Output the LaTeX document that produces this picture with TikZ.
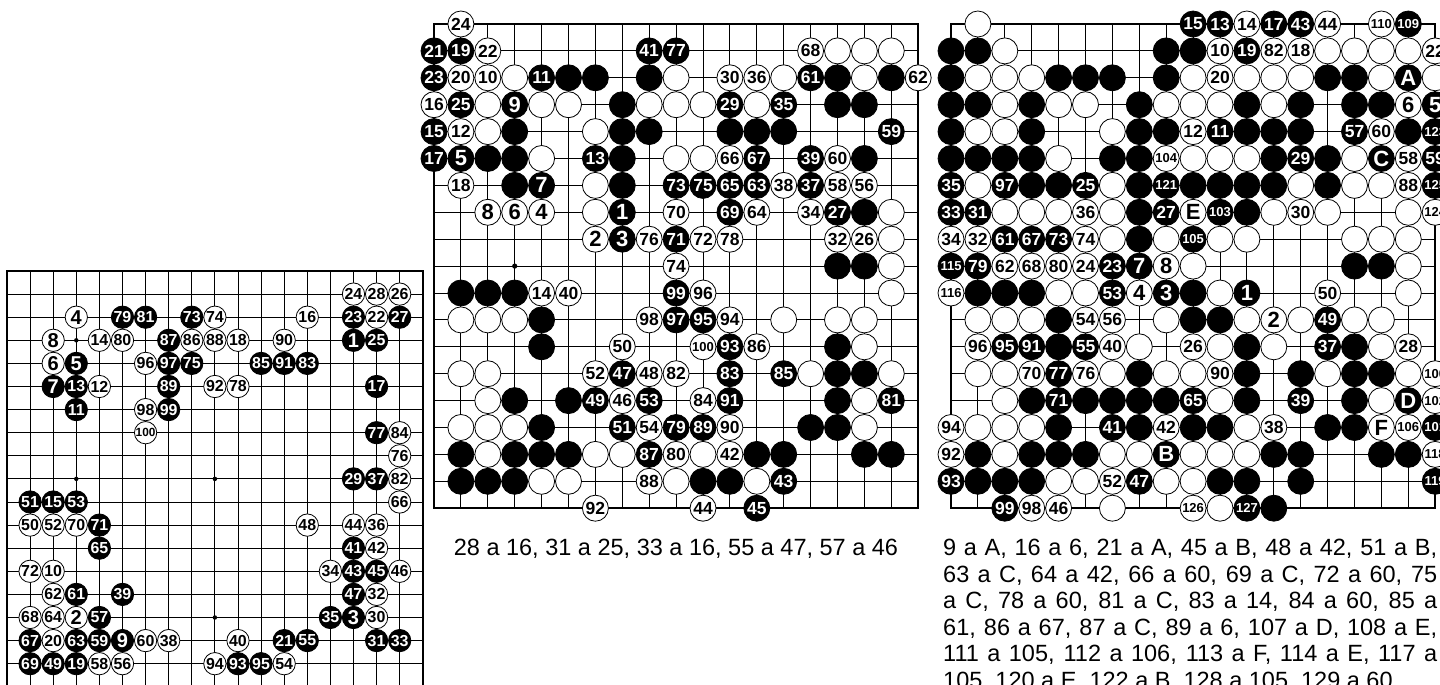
\documentclass[tikz,border=0pt]{standalone}
\usepackage{fontspec}
\setmainfont{Liberation Sans}
\tikzset{
  gridline/.style={line width=0.9pt},
  edgeline/.style={line width=1.8pt},
  stone/.style={circle,draw=black,line width=0.8pt,minimum size=26pt,inner sep=0pt,font=\bfseries},
  bstone/.style={stone,fill=black,text=white},
  wstone/.style={stone,fill=white,text=black},
  letter/.style={font=\fontsize{22}{22}\selectfont\bfseries},
  caption/.style={font=\fontsize{23.5}{27}\selectfont,inner sep=0pt},
}
\def\lblf{1}
\newcommand{\lbl}[1]{%
  \ifnum#1>99 \fontsize{\fpeval{13*\lblf}}{12}\selectfont\else
  \ifnum#1>9 \fontsize{\fpeval{17.5*\lblf}}{17}\selectfont\else
  \fontsize{\fpeval{22*\lblf}}{21}\selectfont\fi\fi#1}
\newcommand{\goboard}{%
  \foreach \k in {1,...,17} {
    \draw[gridline] (\k,0) -- (\k,18);
    \draw[gridline] (0,\k) -- (18,\k);
  }
  \draw[edgeline] (0,0) rectangle (18,18);
  \foreach \hx in {3,9,15}
    \foreach \hy in {3,9,15}
      \fill (\hx,\hy) circle[radius=2.6pt];
}
\begin{document}
\begin{tikzpicture}[x=1pt,y=-1pt]
\useasboundingbox (0,0) rectangle (1440,685);
\fill[white] (0,0) rectangle (1440,685);
\clip (0,0) rectangle (1440,685);

% left board: first hundred moves
\begin{scope}[shift={(7,271)},x=26.9pt,y=-26.9pt,scale=0.8587,transform shape]
\def\lblf{1.06}
\goboard
\foreach \px/\py/\n in {5/2/79,6/2/81,8/2/73,15/2/23,17/2/27,7/3/87,15/3/1,16/3/25,
  3/4/5,7/4/97,8/4/75,11/4/85,12/4/91,13/4/83,2/5/7,3/5/13,7/5/89,16/5/17,3/6/11,
  7/6/99,16/7/77,15/9/29,16/9/37,1/10/51,2/10/15,3/10/53,4/11/71,4/12/65,15/12/41,
  15/13/43,16/13/45,3/14/61,5/14/39,15/14/47,4/15/57,14/15/35,15/15/3,1/16/67,
  3/16/63,4/16/59,5/16/9,12/16/21,13/16/55,16/16/31,17/16/33,1/17/69,2/17/49,
  3/17/19,10/17/93,11/17/95}
  \node[bstone] (l\n) at (\px,\py) {\lbl{\n}};
\foreach \px/\py/\n in {15/1/24,16/1/28,17/1/26,3/2/4,9/2/74,13/2/16,16/2/22,2/3/8,
  4/3/14,5/3/80,8/3/86,9/3/88,10/3/18,12/3/90,2/4/6,6/4/96,4/5/12,9/5/92,10/5/78,
  6/6/98,6/7/100,17/7/84,17/8/76,17/9/82,17/10/66,1/11/50,2/11/52,3/11/70,13/11/48,
  15/11/44,16/11/36,16/12/42,1/13/72,2/13/10,14/13/34,17/13/46,2/14/62,16/14/32,
  1/15/68,2/15/64,3/15/2,16/15/30,2/16/20,6/16/60,7/16/38,10/16/40,4/17/58,5/17/56,
  9/17/94,12/17/54}
  \node[wstone] (l\n) at (\px,\py) {\lbl{\n}};
\end{scope}

% middle board
\begin{scope}[shift={(434,24)},x=26.9pt,y=-26.9pt]
\goboard
\foreach \px/\py in {5/2,6/2,8/2,15/2,17/2,7/3,15/3,16/3,3/4,7/4,8/4,11/4,12/4,13/4,
  2/5,3/5,7/5,16/5,3/6,7/6,16/7,15/9,16/9,1/10,2/10,3/10,4/11,4/12,15/12,15/13,16/13,
  3/14,5/14,15/14,4/15,14/15,15/15,1/16,3/16,4/16,5/16,12/16,13/16,16/16,17/16,
  1/17,2/17,3/17,10/17,11/17}
  \node[bstone] (mb-\px-\py) at (\px,\py) {};
\foreach \px/\py in {15/1,16/1,17/1,3/2,9/2,13/2,16/2,2/3,4/3,5/3,8/3,9/3,10/3,12/3,
  2/4,6/4,4/5,9/5,10/5,6/6,6/7,17/7,17/8,17/9,17/10,1/11,2/11,3/11,13/11,15/11,16/11,
  16/12,1/13,2/13,14/13,17/13,2/14,16/14,1/15,2/15,3/15,16/15,2/16,6/16,7/16,10/16,
  4/17,5/17,9/17,12/17}
  \node[wstone] (mw-\px-\py) at (\px,\py) {};
\foreach \px/\py/\n in {0/1/21,1/1/19,8/1/41,9/1/77,0/2/23,4/2/11,14/2/61,1/3/25,3/3/9,
  11/3/29,13/3/35,0/4/15,17/4/59,0/5/17,1/5/5,6/5/13,12/5/67,14/5/39,4/6/7,9/6/73,
  10/6/75,11/6/65,12/6/63,14/6/37,7/7/1,11/7/69,15/7/27,7/8/3,9/8/71,9/10/99,9/11/97,
  10/11/95,11/12/93,7/13/47,11/13/83,13/13/85,6/14/49,8/14/53,11/14/91,17/14/81,
  7/15/51,9/15/79,10/15/89,8/16/87,13/17/43,12/18/45}
  \node[bstone] (m\n) at (\px,\py) {\lbl{\n}};
\foreach \px/\py/\n in {1/0/24,2/1/22,14/1/68,1/2/20,2/2/10,11/2/30,12/2/36,18/2/62,
  0/3/16,1/4/12,11/5/66,15/5/60,1/6/18,13/6/38,15/6/58,16/6/56,2/7/8,3/7/6,4/7/4,
  9/7/70,12/7/64,14/7/34,6/8/2,8/8/76,10/8/72,11/8/78,15/8/32,16/8/26,9/9/74,4/10/14,
  5/10/40,10/10/96,8/11/98,11/11/94,7/12/50,10/12/100,12/12/86,6/13/52,8/13/48,
  9/13/82,7/14/46,10/14/84,8/15/54,11/15/90,9/16/80,11/16/42,8/17/88,6/18/92,10/18/44}
  \node[wstone] (m\n) at (\px,\py) {\lbl{\n}};
\end{scope}
\node[caption] (m-cap) at (676,549) {28 a 16, 31 a 25, 33 a 16, 55 a 47, 57 a 46};

% right board
\begin{scope}[shift={(951,24)},x=26.9pt,y=-26.9pt]
\goboard
\foreach \px/\py in {0/1,1/1,8/1,9/1,0/2,4/2,5/2,6/2,8/2,14/2,15/2,
  0/3,1/3,3/3,7/3,11/3,13/3,15/3,16/3,0/4,3/4,7/4,8/4,11/4,12/4,13/4,17/4,
  0/5,1/5,2/5,3/5,6/5,7/5,12/5,14/5,3/6,4/6,7/6,9/6,10/6,11/6,12/6,14/6,
  7/7,11/7,7/8,15/9,16/9,1/10,2/10,3/10,9/10,4/11,9/11,10/11,4/12,11/12,15/12,
  7/13,11/13,13/13,15/13,16/13,3/14,5/14,6/14,7/14,8/14,11/14,15/14,
  4/15,7/15,9/15,10/15,14/15,15/15,1/16,3/16,4/16,5/16,12/16,13/16,16/16,17/16,
  1/17,2/17,3/17,10/17,11/17,13/17,12/18}
  \node[bstone] (rb-\px-\py) at (\px,\py) {};
\foreach \px/\py in {1/0,2/1,14/1,15/1,16/1,17/1,1/2,2/2,3/2,9/2,11/2,12/2,13/2,16/2,18/2,
  2/3,4/3,5/3,8/3,9/3,10/3,12/3,1/4,2/4,6/4,4/5,9/5,10/5,11/5,15/5,
  1/6,6/6,13/6,15/6,16/6,2/7,3/7,4/7,6/7,12/7,14/7,17/7,
  6/8,8/8,10/8,11/8,15/8,16/8,17/8,9/9,17/9,4/10,5/10,10/10,17/10,
  1/11,2/11,3/11,8/11,11/11,13/11,15/11,16/11,7/12,10/12,12/12,16/12,
  1/13,2/13,6/13,8/13,9/13,14/13,17/13,2/14,10/14,16/14,1/15,2/15,3/15,11/15,
  2/16,6/16,7/16,9/16,10/16,11/16,4/17,5/17,8/17,9/17,6/18,10/18}
  \node[wstone] (rw-\px-\py) at (\px,\py) {};
\foreach \px/\py/\n in {9/0/15,10/0/13,12/0/17,13/0/43,17/0/109,11/1/19,10/4/11,15/4/57,
  18/4/123,13/5/29,18/5/59,0/6/35,2/6/97,5/6/25,8/6/121,18/6/125,0/7/33,1/7/31,8/7/27,
  10/7/103,2/8/61,3/8/67,4/8/73,9/8/105,0/9/115,1/9/79,6/9/23,7/9/7,6/10/53,8/10/3,
  11/10/1,14/11/49,2/12/95,3/12/91,5/12/55,14/12/37,4/13/77,18/3/5,4/14/71,9/14/65,
  13/14/39,6/15/41,18/15/101,7/17/47,0/17/93,18/17/119,2/18/99,11/18/127}
  \node[bstone] (r\n) at (\px,\py) {\lbl{\n}};
\foreach \px/\py/\n in {11/0/14,14/0/44,16/0/110,10/1/10,12/1/82,13/1/18,18/1/22,10/2/20,
  17/3/6,9/4/12,16/4/60,8/5/104,17/5/58,17/6/88,5/7/36,13/7/30,18/7/124,0/8/34,1/8/32,
  5/8/74,2/9/62,3/9/68,4/9/80,5/9/24,8/9/8,0/10/116,7/10/4,14/10/50,5/11/54,6/11/56,
  12/11/2,1/12/96,6/12/40,9/12/26,17/12/28,3/13/70,5/13/76,10/13/90,18/13/100,
  18/14/102,0/15/94,8/15/42,12/15/38,17/15/106,0/16/92,18/16/118,6/17/52,3/18/98,
  4/18/46,9/18/126}
  \node[wstone] (r\n) at (\px,\py) {\lbl{\n}};
\foreach \px/\py/\l in {17/2/A,16/5/C,17/14/D,8/16/B}
  \node[bstone,letter] (r\l) at (\px,\py) {\l};
\foreach \px/\py/\l in {9/7/E,16/15/F}
  \node[wstone,letter] (r\l) at (\px,\py) {\l};
\end{scope}
\node[caption,anchor=west] (r-cap1) at (943,549) {\makebox[494pt][s]{9 a A, 16 a 6, 21 a A, 45 a B, 48 a 42, 51 a B,}};
\node[caption,anchor=west] (r-cap2) at (943,576) {\makebox[494pt][s]{63 a C, 64 a 42, 66 a 60, 69 a C, 72 a 60, 75}};
\node[caption,anchor=west] (r-cap3) at (943,602) {\makebox[494pt][s]{a C, 78 a 60, 81 a C, 83 a 14, 84 a 60, 85 a}};
\node[caption,anchor=west] (r-cap4) at (943,629) {\makebox[494pt][s]{61, 86 a 67, 87 a C, 89 a 6, 107 a D, 108 a E,}};
\node[caption,anchor=west] (r-cap5) at (943,655) {\makebox[494pt][s]{111 a 105, 112 a 106, 113 a F, 114 a E, 117 a}};
\node[caption,anchor=west] (r-cap6) at (943,682) {105, 120 a E, 122 a B, 128 a 105, 129 a 60};
\end{tikzpicture}
\end{document}
